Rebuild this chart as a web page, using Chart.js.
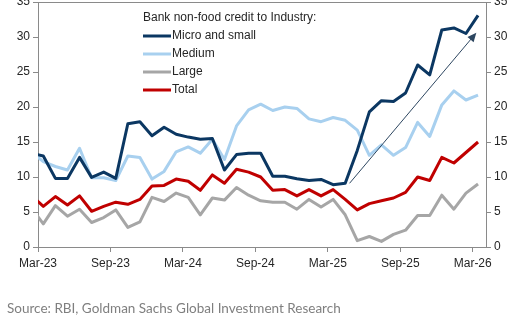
<!DOCTYPE html>
<html><head><meta charset="utf-8">
<script src="https://cdn.jsdelivr.net/npm/chart.js@4"></script>
<style>html,body{margin:0;padding:0;background:#fff;overflow:hidden;}#wrap{width:509px;height:315px;position:relative;}</style>
</head><body><div id="wrap"><canvas id="c" width="509" height="315"></canvas></div>
<script>
// Monthly observations (reported mid-month); Feb-23 lies just left of the axis start
const months = ['Feb-23','Mar-23','Apr-23','May-23','Jun-23','Jul-23','Aug-23','Sep-23','Oct-23','Nov-23','Dec-23',
  'Jan-24','Feb-24','Mar-24','Apr-24','May-24','Jun-24','Jul-24','Aug-24','Sep-24','Oct-24','Nov-24','Dec-24',
  'Jan-25','Feb-25','Mar-25','Apr-25','May-25','Jun-25','Jul-25','Aug-25','Sep-25','Oct-25','Nov-25','Dec-25',
  'Jan-26','Feb-26','Mar-26'];
const microSmall = [13.4,13.0,9.8,9.8,12.8,9.95,10.7,9.8,17.6,17.9,15.9,17.1,16.1,15.7,15.4,15.5,11.0,13.2,13.4,13.4,
  10.1,10.1,9.75,9.5,9.65,8.9,9.1,13.8,19.3,20.9,20.8,22.0,26.0,24.6,31.0,31.3,30.5,33.1];
const medium = [13.6,12.2,11.5,11.0,14.1,9.9,9.9,9.5,13.0,12.8,9.7,10.8,13.6,14.3,13.4,15.4,12.5,17.3,19.6,20.4,
  19.5,20.0,19.8,18.3,17.9,18.5,18.1,16.7,13.1,14.6,13.1,14.2,17.8,15.8,20.3,22.3,21.0,21.7];
const large = [5.6,3.3,5.9,4.4,5.4,3.5,4.2,5.3,2.8,3.6,7.1,6.5,7.7,7.1,4.6,7.0,6.7,8.5,7.4,6.6,
  6.4,6.4,5.4,6.8,5.7,6.8,4.6,0.9,1.5,0.8,1.8,2.4,4.5,4.5,7.4,5.4,7.7,9.0];
const total = [7.4,5.8,7.2,6.0,7.3,5.1,5.8,6.4,6.1,6.8,8.7,8.8,9.7,9.4,8.1,10.3,9.1,11.1,10.7,10.0,
  8.1,8.2,7.3,8.2,7.3,8.2,6.8,5.3,6.2,6.6,7.0,7.8,10.0,9.5,12.8,12.0,13.5,15.0];
const seriesNames = ['Micro and small','Medium','Large','Total'];
const legendTitle = 'Bank non-food credit to Industry:';
const tickLabels = ['Mar-23','Sep-23','Mar-24','Sep-24','Mar-25','Sep-25','Mar-26'];
const yMin = 0, yMax = 35, yStep = 5;
const xMaxMonths = 37.1;          // axis runs Mar-23 .. just past Mar-26
const reportOffset = 0.44;        // fraction of month at which each observation is dated
const arrowFrom = [25.8, 9.1];    // [months since Mar-23, % yoy]
const arrowTo = [36.3, 30.6];
const sourceText = 'Source: RBI, Goldman Sachs Global Investment Research';

const MNAMES = ['Jan','Feb','Mar','Apr','May','Jun','Jul','Aug','Sep','Oct','Nov','Dec'];
function monthPos(m){ return (parseInt(m.slice(4),10)-23)*12 + MNAMES.indexOf(m.slice(0,3)) - 2 + reportOffset; }
function pts(vals){ return vals.map((v,i)=>({x: monthPos(months[i]), y: v})); }

const colors = ['#0b3762','#a8d0ef','#a6a6a6','#c00000'];
const axisColor = '#8a8a8a';
const textColor = '#262626';
const FONT = 'Liberation Sans, Arial, sans-serif';

const topBorder = {
  id:'topBorder',
  beforeDatasetsDraw(chart){
    const a = chart.chartArea, ctx = chart.ctx;
    ctx.save(); ctx.strokeStyle = axisColor; ctx.lineWidth = 1;
    ctx.beginPath(); ctx.moveTo(a.left, a.top+0.5); ctx.lineTo(a.right, a.top+0.5); ctx.stroke();
    ctx.restore();
  }
};
const arrowPlugin = {
  id:'arrow',
  afterDatasetsDraw(chart){
    const x = chart.scales.x, y = chart.scales.y, ctx = chart.ctx;
    const x0 = x.getPixelForValue(arrowFrom[0]), y0 = y.getPixelForValue(arrowFrom[1]);
    const x1 = x.getPixelForValue(arrowTo[0]), y1 = y.getPixelForValue(arrowTo[1]);
    const ang = Math.atan2(y1-y0, x1-x0), L = 9, W = 4;
    ctx.save(); ctx.strokeStyle = '#2d4660'; ctx.fillStyle = '#2d4660'; ctx.lineWidth = 1;
    ctx.beginPath(); ctx.moveTo(x0,y0); ctx.lineTo(x1 - Math.cos(ang)*L*0.8, y1 - Math.sin(ang)*L*0.8); ctx.stroke();
    ctx.beginPath(); ctx.moveTo(x1,y1);
    ctx.lineTo(x1 - Math.cos(ang)*L + Math.sin(ang)*W, y1 - Math.sin(ang)*L - Math.cos(ang)*W);
    ctx.lineTo(x1 - Math.cos(ang)*L - Math.sin(ang)*W, y1 - Math.sin(ang)*L + Math.cos(ang)*W);
    ctx.closePath(); ctx.fill();
    ctx.restore();
  }
};
const legendPlugin = {
  id:'legendBox',
  afterDraw(chart){
    const ctx = chart.ctx, a = chart.chartArea;
    const lx = a.left + 105, ty = a.top + 16, row = 18;
    ctx.save();
    ctx.font = '12px ' + FONT; ctx.fillStyle = textColor; ctx.textBaseline = 'middle'; ctx.textAlign = 'left';
    ctx.fillText(legendTitle, lx, ty);
    chart.data.datasets.forEach((ds,i)=>{
      const yy = ty + row*(i+1);
      ctx.strokeStyle = ds.borderColor; ctx.lineWidth = 3; ctx.lineCap = 'butt';
      ctx.beginPath(); ctx.moveTo(lx, yy); ctx.lineTo(lx+28, yy); ctx.stroke();
      ctx.fillStyle = textColor; ctx.fillText(ds.label, lx+29, yy);
    });
    ctx.font = '13.5px Lato, sans-serif'; ctx.fillStyle = '#7f7f7f'; ctx.textBaseline = 'alphabetic';
    ctx.fillText(sourceText, 7, 313);
    ctx.restore();
  }
};

const yAxisCommon = {
  type:'linear', min:yMin, max:yMax,
  ticks:{ stepSize:yStep, color:textColor, font:{family:FONT, size:12}, padding:3 },
  grid:{ drawOnChartArea:false, drawTicks:true, tickLength:5, color:axisColor },
  border:{ color:axisColor, width:1 }
};

new Chart(document.getElementById('c'), {
  type:'line',
  data:{ datasets:[microSmall, medium, large, total].map((vals,i)=>({
    label: seriesNames[i], data: pts(vals), borderColor: colors[i], backgroundColor: colors[i],
    borderWidth: 3, pointRadius: 0, tension: 0, borderJoinStyle:'round', fill:false,
    clip:{left:0, right:6, top:6, bottom:6}
  }))},
  options:{
    responsive:false, animation:false, devicePixelRatio:1,
    layout:{ padding:{ top:2, left:0, right:0, bottom:0 } },
    plugins:{ legend:{display:false}, tooltip:{enabled:false} },
    scales:{
      x:{ type:'linear', position:'bottom', min:0, max:xMaxMonths,
        afterBuildTicks(s){ s.ticks = tickLabels.map((l,i)=>({value:i*6})); },
        ticks:{ callback:(v)=>tickLabels[Math.round(v/6)], color:textColor, font:{family:FONT, size:12}, padding:4, maxRotation:0, autoSkip:false },
        grid:{ drawOnChartArea:false, drawTicks:true, tickLength:5, color:axisColor },
        border:{ color:axisColor, width:1 },
        afterFit(s){ s.height = 68; s.paddingLeft = 0; s.paddingRight = 0; }
      },
      y: Object.assign({}, yAxisCommon, { position:'left', afterFit(s){ s.width = 38; s.paddingTop = 0; s.paddingBottom = 0; } }),
      y2: Object.assign({}, yAxisCommon, { position:'right', afterFit(s){ s.width = 23; s.paddingTop = 0; s.paddingBottom = 0; } })
    }
  },
  plugins:[topBorder, arrowPlugin, legendPlugin]
});
</script></body></html>
